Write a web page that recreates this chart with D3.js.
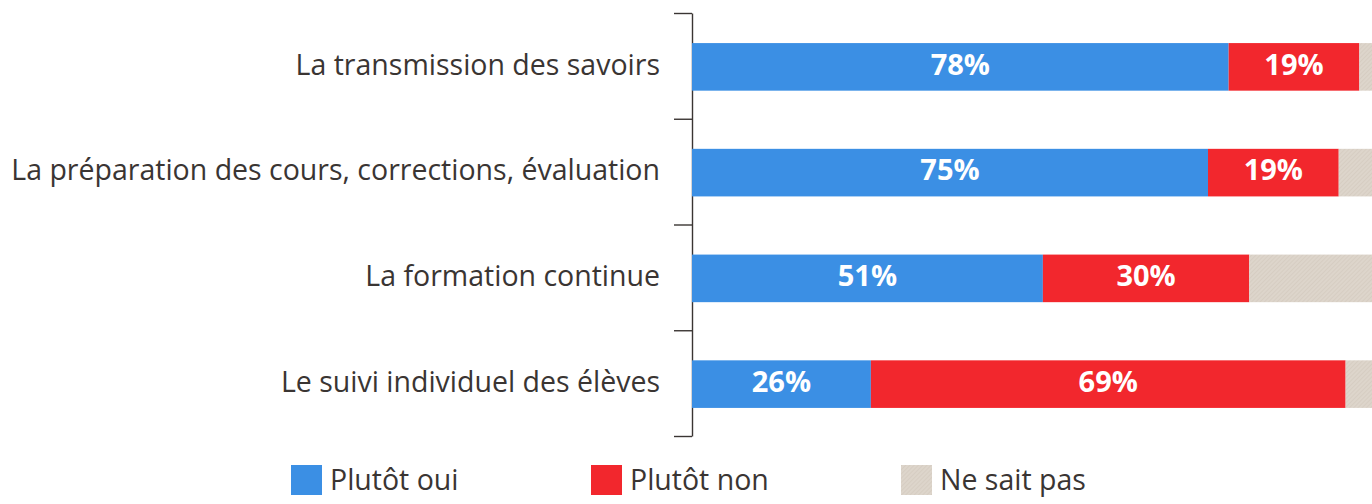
<!DOCTYPE html>
<html>
<head>
<meta charset="utf-8">
<script src="https://cdn.jsdelivr.net/npm/d3@7"></script>
<style>
  body { margin: 0; background: #fff; }
  svg { display: block; }
  text { font-family: "Open Sans", sans-serif; }
</style>
</head>
<body>
<svg id="chart" width="1372" height="504"></svg>
<script>
const categories = [
  "La transmission des savoirs",
  "La préparation des cours, corrections, évaluation",
  "La formation continue",
  "Le suivi individuel des élèves"
];
const series = ["Plutôt oui", "Plutôt non", "Ne sait pas"];
const oui = [78, 75, 51, 26];
const non = [19, 19, 30, 69];
const nsp = [3, 6, 19, 5];

const colors = ["#3b8fe4", "#f2272d", "url(#hatch)"];

const svg = d3.select("#chart");

// hatched beige fill for "Ne sait pas"
const pat = svg.append("defs").append("pattern")
  .attr("id", "hatch")
  .attr("patternUnits", "userSpaceOnUse")
  .attr("width", 3).attr("height", 3)
  .attr("patternTransform", "rotate(45)");
pat.append("rect").attr("width", 3).attr("height", 3).attr("fill", "#ddd5cb");
pat.append("line").attr("x1", 0).attr("y1", 0).attr("x2", 0).attr("y2", 3)
  .attr("stroke", "#cfc5ba").attr("stroke-width", 1);

const rows = categories.map((c, i) => ({ cat: c, values: [oui[i], non[i], nsp[i]] }));
const stacked = d3.stack().keys([0, 1, 2]).value((d, k) => d.values[k])(rows);

const x = d3.scaleLinear().domain([0, 100]).range([692, 1380]);
const y = d3.scaleBand().domain(categories).range([13, 436]).padding(0);
const yEdge = d3.scaleLinear().domain([0, categories.length]).range([13, 436]);
const barH = y.bandwidth() * 0.45;

// axis with ticks at row boundaries
svg.append("g")
  .attr("transform", "translate(692,0)")
  .call(d3.axisLeft(yEdge).tickValues(d3.range(categories.length + 1))
    .tickSize(18).tickSizeOuter(0).tickFormat(""))
  .call(g => g.selectAll("path, line").attr("stroke", "#3a3533").attr("stroke-width", 1.4));

// category labels
svg.append("g").selectAll("text")
  .data(categories)
  .join("text")
  .attr("x", 660)
  .attr("y", d => y(d) + y.bandwidth() / 2 + 1)
  .attr("text-anchor", "end")
  .attr("dominant-baseline", "middle")
  .attr("font-size", 28.5)
  .attr("fill", "#3a3533")
  .text(d => d);

// bars
const layers = svg.append("g").selectAll("g")
  .data(stacked)
  .join("g")
  .attr("fill", (d, i) => colors[i]);

layers.selectAll("rect")
  .data(d => d)
  .join("rect")
  .attr("x", d => x(d[0]))
  .attr("width", d => x(d[1]) - x(d[0]))
  .attr("y", d => y(d.data.cat) + (y.bandwidth() - barH) / 2 + 1)
  .attr("height", barH);

// value labels (only oui / non)
svg.append("g").selectAll("g")
  .data(stacked.slice(0, 2))
  .join("g")
  .selectAll("text")
  .data(d => d)
  .join("text")
  .attr("x", d => (x(d[0]) + x(d[1])) / 2)
  .attr("y", d => y(d.data.cat) + y.bandwidth() / 2 + 1)
  .attr("text-anchor", "middle")
  .attr("dominant-baseline", "middle")
  .attr("font-size", 29)
  .attr("font-weight", "bold")
  .attr("fill", "#fff")
  .text(d => (d[1] - d[0]) + "%");

// legend
const legendX = [291, 591, 901];
const legend = svg.append("g").selectAll("g")
  .data(series)
  .join("g")
  .attr("transform", (d, i) => `translate(${legendX[i]},465)`);
legend.append("rect")
  .attr("width", 31).attr("height", 30)
  .attr("fill", (d, i) => colors[i]);
legend.append("text")
  .attr("x", 39).attr("y", 17)
  .attr("dominant-baseline", "middle")
  .attr("font-size", 28.5)
  .attr("fill", "#3a3533")
  .text(d => d);
</script>
</body>
</html>
